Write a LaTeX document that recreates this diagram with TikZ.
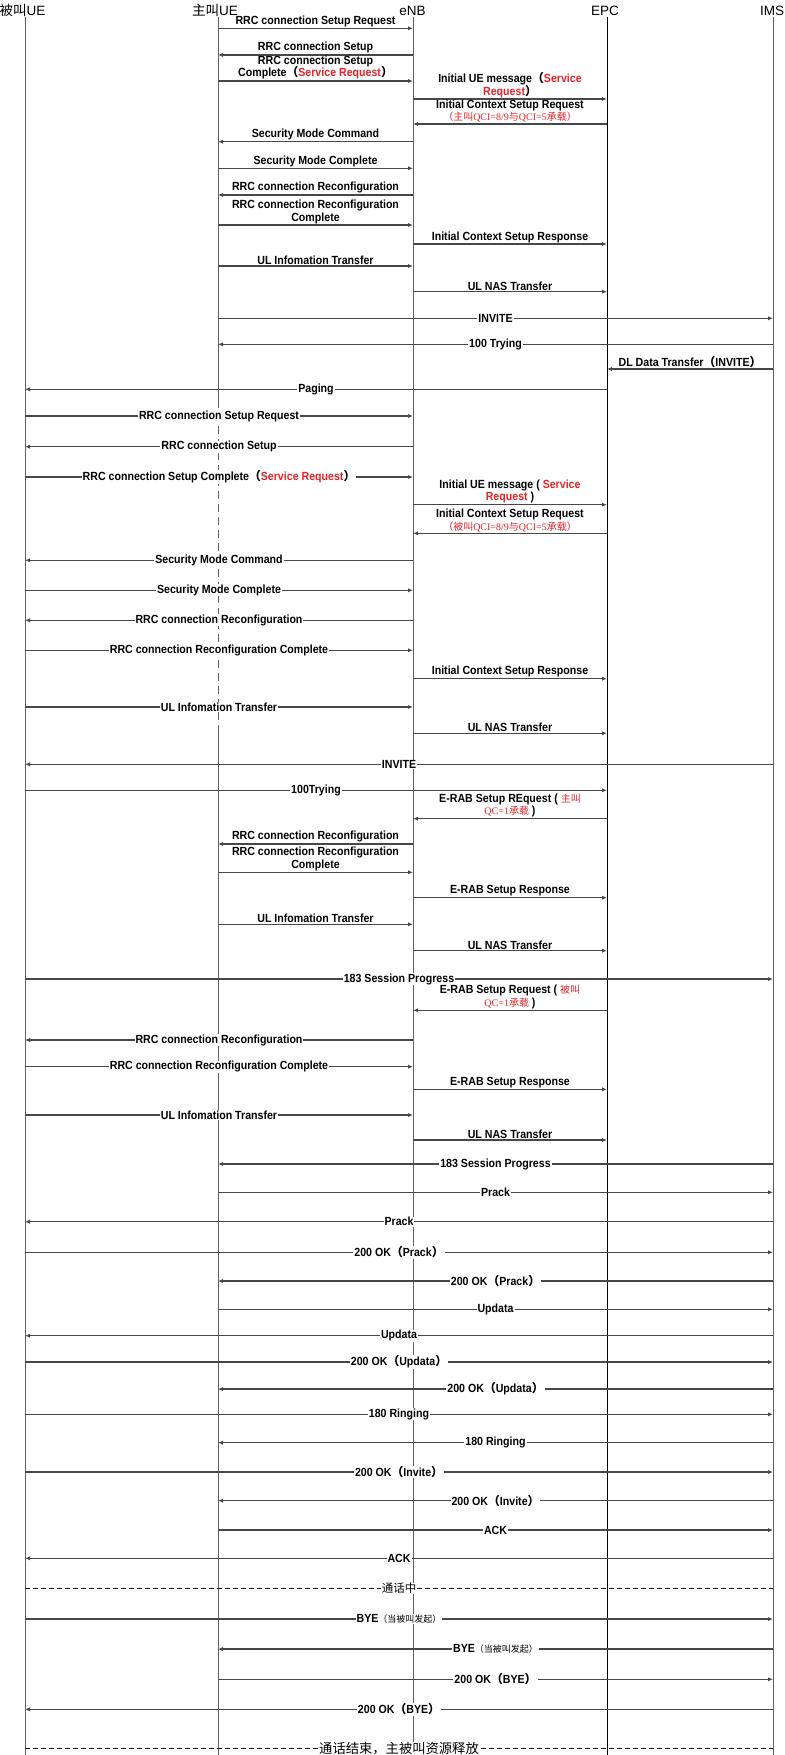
\documentclass[tikz,border=0pt]{standalone}
\usepackage{fontspec}
\setmainfont{Liberation Sans}
\newfontfamily\narrowsans{Liberation Sans}[FakeStretch=0.9]
\newfontfamily\cjk{Noto Sans CJK SC}
\newfontfamily\ser{Liberation Serif}
\usetikzlibrary{arrows.meta}
\definecolor{rr}{HTML}{E8232A}
\newcommand\zh[1]{{\cjk #1}}
\newcommand\rd[1]{\textcolor{rr}{#1}}
\newcommand\lp{\zh{（}}
\newcommand\rp{\zh{）}}
\newcommand\ann[1]{{\color{rr}\mdseries\fontsize{10}{12.7}\selectfont #1}}
\newcommand\byenote{{\mdseries\cjk\fontsize{9}{10}\selectfont （当被叫发起）}}
\newcommand\msgA[5]{\draw[msg] (#1 |- 0,#3) -- node[midway,above,lab] (#4) {#5} (#2 |- 0,#3);}
\newcommand\msgI[5]{\draw[msg] (#1 |- 0,#3) -- node[midway,inl] (#4) {#5} (#2 |- 0,#3);}
\begin{document}
\begin{tikzpicture}[x=1pt,y=-1pt,
  lifeline/.style={draw=black!62,line width=1pt},
  msg/.style={draw=black!72,line width=1.1pt,-{Latex[length=5pt,width=4.2pt]}},
  lab/.style={font=\narrowsans\fontsize{11.8}{12.7}\selectfont\bfseries,align=center,inner sep=1pt,text=black},
  inl/.style={lab,fill=white,inner xsep=1pt,inner ysep=0.5pt},
  hdr/.style={font=\fontsize{13.5}{15}\selectfont,inner sep=0pt,anchor=base},
  sepline/.style={draw=black,line width=1.4pt,dash pattern=on 5pt off 3pt}
]
\fill[white] (0,0) rectangle (784,1755);
\useasboundingbox (0,0) rectangle (784,1755);

% headers
\node[hdr] (hB) at (22.5,16) {\zh{被叫}UE};
\node[hdr] (hA) at (215,16) {\zh{主叫}UE};
\node[hdr] (hN) at (412.5,16) {eNB};
\node[hdr] (hP) at (605,16) {EPC};
\node[hdr] (hI) at (772,16) {IMS};

% lifelines
\coordinate (B) at (25,17);
\coordinate (A) at (218,17);
\coordinate (N) at (413,17);
\coordinate (P) at (607,17);
\coordinate (I) at (773,17);
\draw[lifeline] (B) -- (B |- 0,1755);
\draw[lifeline] (A) -- (A |- 0,400);
\draw[lifeline,dash pattern=on 8pt off 5pt] (A |- 0,400) -- (A |- 0,728);
\draw[lifeline] (A |- 0,728) -- (A |- 0,1755);
\draw[lifeline] (N) -- (N |- 0,1755);
\draw[lifeline,draw=black,line width=0.7pt] (P) -- (P |- 0,1755);
\draw[lifeline] (I) -- (I |- 0,1755);

% messages
\msgA{A}{N}{28.3}{m1}{RRC connection Setup Request}
\msgA{N}{A}{55}{m2}{RRC connection Setup}
\msgA{A}{N}{81}{m3}{RRC connection Setup\\Complete\lp\rd{Service Request}\rp}
\msgA{N}{P}{99}{m4}{Initial UE message\lp\rd{Service}\\\rd{Request}\rp}
\msgA{P}{N}{124}{m5}{Initial Context Setup Request\\\ann{\zh{（主叫}{\ser QCI=8/9}\zh{与}{\ser QCI=5}\zh{承载）}}}
\msgA{N}{A}{141.7}{m6}{Security Mode Command}
\msgA{A}{N}{168.3}{m7}{Security Mode Complete}
\msgA{N}{A}{195}{m8}{RRC connection Reconfiguration}
\msgA{A}{N}{225}{m9}{RRC connection Reconfiguration\\Complete}
\msgA{N}{P}{244}{m10}{Initial Context Setup Response}
\msgA{A}{N}{266}{m11}{UL Infomation Transfer}
\msgA{N}{P}{291.7}{m12}{UL NAS Transfer}
\msgI{A}{I}{318.3}{m13}{INVITE}
\msgI{I}{A}{344.3}{m14}{100 Trying}
\msgA{I}{P}{369}{m15}{DL Data Transfer\lp INVITE\rp}
\msgI{P}{B}{389.3}{m16}{Paging}
\msgI{B}{N}{416}{m17}{RRC connection Setup Request}
\msgI{N}{B}{446.7}{m18}{RRC connection Setup}
\msgI{B}{N}{477}{m19}{RRC connection Setup Complete\lp\rd{Service Request}\rp}
\msgA{N}{P}{504.7}{m20}{Initial UE message ( \rd{Service}\\\rd{Request} )}
\msgA{P}{N}{533.3}{m21}{Initial Context Setup Request\\\ann{\zh{（被叫}{\ser QCI=8/9}\zh{与}{\ser QCI=5}\zh{承载）}}}
\msgI{N}{B}{560.3}{m22}{Security Mode Command}
\msgI{B}{N}{590.3}{m23}{Security Mode Complete}
\msgI{N}{B}{620.3}{m24}{RRC connection Reconfiguration}
\msgI{B}{N}{650.3}{m25}{RRC connection Reconfiguration Complete}
\msgA{N}{P}{678.7}{m26}{Initial Context Setup Response}
\msgI{B}{N}{707}{m27}{UL Infomation Transfer}
\msgA{N}{P}{733.3}{m28}{UL NAS Transfer}
\msgI{I}{B}{764.3}{m29}{INVITE}
\msgI{B}{P}{790.3}{m30}{100Trying}
\msgA{P}{N}{818.7}{m31}{E-RAB Setup REquest ( \ann{\zh{主叫}}\\\ann{{\ser QC=1}\zh{承载}} )}
\msgA{N}{A}{844}{m32}{RRC connection Reconfiguration}
\msgA{A}{N}{872.3}{m33}{RRC connection Reconfiguration\\Complete}
\msgA{N}{P}{897.7}{m34}{E-RAB Setup Response}
\msgA{A}{N}{924.3}{m35}{UL Infomation Transfer}
\msgA{N}{P}{950.7}{m36}{UL NAS Transfer}
\msgI{B}{I}{979}{m37}{183 Session Progress}
\msgA{P}{N}{1010.3}{m38}{E-RAB Setup Request ( \ann{\zh{被叫}}\\\ann{{\ser QC=1}\zh{承载}} )}
\msgI{N}{B}{1040}{m39}{RRC connection Reconfiguration}
\msgI{B}{N}{1066.7}{m40}{RRC connection Reconfiguration Complete}
\msgA{N}{P}{1089.3}{m41}{E-RAB Setup Response}
\msgI{B}{N}{1115}{m42}{UL Infomation Transfer}
\msgA{N}{P}{1140}{m43}{UL NAS Transfer}
\msgI{I}{A}{1164}{m44}{183 Session Progress}
\msgI{A}{I}{1192.3}{m45}{Prack}
\msgI{I}{B}{1221.7}{m46}{Prack}
\msgI{B}{I}{1252.3}{m47}{200 OK\lp Prack\rp}
\msgI{I}{A}{1281}{m48}{200 OK\lp Prack\rp}
\msgI{A}{I}{1309.3}{m49}{Updata}
\msgI{I}{B}{1335.7}{m50}{Updata}
\msgI{B}{I}{1362}{m51}{200 OK\lp Updata\rp}
\msgI{I}{A}{1389}{m52}{200 OK\lp Updata\rp}
\msgI{B}{I}{1414.3}{m53}{180 Ringing}
\msgI{I}{A}{1442.7}{m54}{180 Ringing}
\msgI{B}{I}{1472}{m55}{200 OK\lp Invite\rp}
\msgI{I}{A}{1500.7}{m56}{200 OK\lp Invite\rp}
\msgI{A}{I}{1530}{m57}{ACK}
\msgI{I}{B}{1558.3}{m58}{ACK}
\draw[sepline] (B |- 0,1588.3) -- node[midway,fill=white,inner xsep=1pt,inner ysep=0.5pt,font=\fontsize{11.5}{12}\selectfont\cjk] (m59) {通话中} (I |- 0,1588.3);
\msgI{B}{I}{1619}{m60}{BYE\byenote}
\msgI{I}{A}{1649}{m61}{BYE\byenote}
\msgI{A}{I}{1679.3}{m62}{200 OK\lp BYE\rp}
\msgI{I}{B}{1709.3}{m63}{200 OK\lp BYE\rp}
\draw[sepline] (B |- 0,1748.3) -- node[midway,fill=white,inner xsep=1pt,inner ysep=0pt,font=\fontsize{13.3}{14}\selectfont\cjk] (m64) {通话结束，主被叫资源释放} (I |- 0,1748.3);
\end{tikzpicture}
\end{document}
